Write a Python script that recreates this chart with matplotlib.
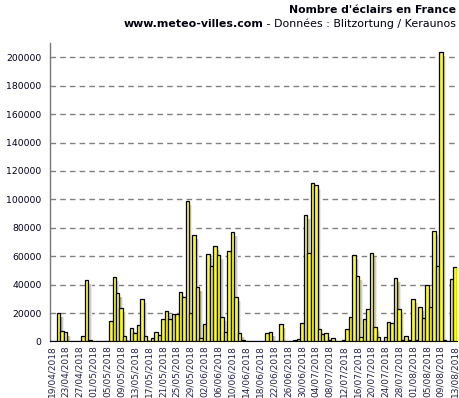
import matplotlib
matplotlib.use("Agg")
import matplotlib.pyplot as plt
import pandas as pd

# daily lightning counts, 19/04/2018 -> 13/08/2018
dates = pd.date_range("2018-04-19", "2018-08-13", freq="D")
counts = [
    0, 400, 20000, 7500, 6800, 300, 300, 0, 300, 4000,
    43500, 1000, 0, 0, 0, 0, 0, 14600, 45400, 34100,
    23500, 4000, 500, 9400, 6100, 11500, 29900, 4000, 500, 2400,
    6600, 4500, 15800, 21400, 15800, 19300, 19300, 34800, 31500, 99000,
    20000, 74800, 38400, 2800, 12200, 61600, 53200, 67000, 60700, 16900,
    6600, 63800, 77200, 31300, 5900, 900, 0, 0, 0, 0,
    0, 0, 5900, 6600, 0, 0, 12200, 0, 0, 0,
    900, 1600, 12900, 88700, 62400, 111500, 110300, 8700, 5300, 5900,
    1200, 2400, 0, 0, 1200, 8700, 17200, 60700, 45900, 3000,
    15700, 22800, 62200, 10100, 3300, 500, 3000, 13900, 12900, 44700,
    22800, 700, 4000, 1200, 30100, 1200, 24200, 16500, 40000, 24200,
    78000, 53000, 204000, 1200, 500, 44000, 52500,
]
yticks = list(range(0, 200001, 20000))
tick_labels = [d.strftime("%d/%m/%Y") for d in dates[::4]]

fig = plt.figure(figsize=(4.6, 3.98), dpi=100)
ax = fig.add_axes([0.1087, 0.142, 0.8837, 0.7497])

x = list(range(len(counts)))

# drop shadow (gradient) to the right of each bar
shadow = [max(v - 2800, 0) for v in counts]
for off, w, col in [(0.5, 0.35, "#a8a8a8"), (0.85, 0.35, "#cccccc"), (1.2, 0.3, "#ebebeb")]:
    ax.bar([i + off for i in x], shadow, width=w, align="edge", color=col,
           linewidth=0, zorder=2)

ax.bar(x, counts, width=1.0, color="#ffff00", edgecolor="black", linewidth=0.9, zorder=3)

ax.set_xlim(-0.5, len(counts) - 0.5)
ax.set_ylim(0, 210000)

ax.set_yticks(yticks)
ax.set_yticklabels([str(v) for v in yticks], fontsize=6.7, color="#000022")
ax.set_xticks(x[::4])
ax.set_xticklabels(tick_labels, rotation=90, fontsize=6.5, color="#222255")
ax.tick_params(axis="y", length=0, pad=6)
ax.tick_params(axis="x", length=0, pad=2.5)

for v in yticks[1:]:
    ax.axhline(v, color="#808080", linestyle=(0, (4, 3)), linewidth=1.0, zorder=1)

ax.spines["top"].set_visible(False)
ax.spines["right"].set_visible(False)
ax.spines["left"].set_color("#777777")
ax.spines["bottom"].set_color("black")
ax.spines["left"].set_linewidth(1.0)

fig.text(0.992, 0.975, "Nombre d'éclairs en France", ha="right", va="center",
         fontsize=7.8, fontweight="bold", color="#000011")

t2 = fig.text(0.992, 0.94, " - Données : Blitzortung / Keraunos", ha="right", va="center",
              fontsize=7.9, color="#000011")
fig.canvas.draw()
bb = t2.get_window_extent(renderer=fig.canvas.get_renderer())
fig.text(bb.x0 / fig.bbox.width, 0.94, "www.meteo-villes.com", ha="right", va="center",
         fontsize=7.9, fontweight="bold", color="#000011")

fig.savefig("out.png", dpi=100)
